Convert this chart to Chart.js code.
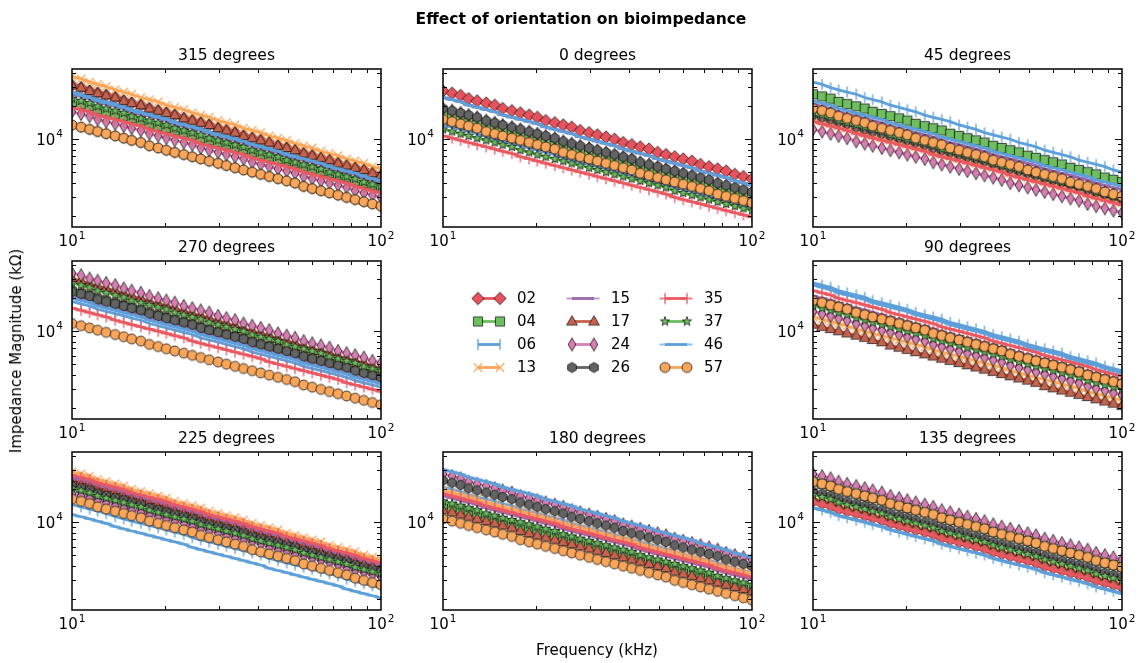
<!DOCTYPE html>
<html lang="en">
<head>
<meta charset="UTF-8">
<title>Effect of orientation on bioimpedance</title>
<script src="https://cdn.jsdelivr.net/npm/chart.js"></script>
<style>
  body { margin: 0; background: #fff; font-family: "DejaVu Sans", sans-serif; }
  #fig { position: relative; width: 1142px; height: 663px; overflow: hidden; background: #fff; }
  #fig canvas { position: absolute; left: 0; top: 0; }
  .lbl { position: absolute; color: #000; white-space: nowrap; font-size: 15px; line-height: 18px; }
  #title { left: 0; width: 1162px; top: 10px; text-align: center; font-weight: bold; font-size: 15.5px; }
  #xlabel { left: 0; width: 1194px; top: 641px; text-align: center; }
  #ylabel { left: 16px; top: 351px; transform: translate(-50%, -50%) rotate(-90deg); }
</style>
</head>
<body>
<div id="fig">
  <div id="title" class="lbl">Effect of orientation on bioimpedance</div>
  <div id="ylabel" class="lbl">Impedance Magnitude (kΩ)</div>
  <div id="xlabel" class="lbl">Frequency (kHz)</div>
</div>
<script>
// frequency sweep (kHz)
const freqs = [10, 10.7, 11.4, 12.1, 12.9, 13.8, 14.7, 15.6, 16.7, 17.8, 19, 20.2, 21.5, 23, 24.5, 26.1, 27.8, 29.7, 31.6, 33.7, 35.9, 38.3, 40.8, 43.5, 46.4, 49.5, 52.7, 56.2, 59.9, 63.9, 68.1, 72.6, 77.4, 82.5, 88, 93.8, 100];

const seriesNames = ['02', '04', '06', '13', '15', '17', '24', '26', '35', '37', '46', '57'];
const panelTitles = ['315 degrees', '0 degrees', '45 degrees', '270 degrees', '90 degrees', '225 degrees', '180 degrees', '135 degrees'];

// axis ticks
const xTicks = [10, 100];
const xMinor = [20, 30, 40, 50, 60, 70, 80, 90];
const yTicks = [10000];
const yMinor = [2000, 3000, 4000, 5000, 6000, 7000, 8000, 9000, 20000, 30000, 40000];
const yMin = 1585, yMax = 43650;

// 315 degrees
const z315_02 = [30900,29510,27540,26300,25120,23990,22390,21380,20420,19050,18200,17380,16600,15490,14790,14130,13490,12590,12020,11480,10720,10230,9772,9333,8710,8318,7943,7413,7079,6761,6457,6026,5754,5495,5248,4898,4677];
const z315_04 = [21880,20890,19950,18620,17780,16980,16220,15490,14790,13800,13180,12590,12020,11480,10960,10230,9772,9333,8913,8511,8128,7586,7244,6918,6607,6310,6026,5623,5370,5129,4898,4677,4467,4169,3981,3802,3631];
const z315_06 = [26920,25700,24550,22910,21880,20890,19950,18620,17780,16980,16220,15490,14450,13800,13180,12590,11750,11220,10720,10230,9772,9120,8710,8318,7943,7413,7079,6761,6457,6166,5754,5495,5248,5012,4677,4467,4266];
const z315_13 = [37150,35480,33110,31620,30200,28180,26920,25700,23990,22910,21880,20420,19500,18620,17380,16600,15850,14790,14130,13490,12590,12020,11480,10720,10230,9772,9120,8710,8318,7762,7413,7079,6607,6310,6026,5623,5370];
const z315_15 = [25700,24550,23440,21880,20890,19950,19050,17780,16980,16220,15490,14790,13800,13180,12590,12020,11220,10720,10230,9772,9333,8710,8318,7943,7586,7079,6761,6457,6166,5888,5495,5248,5012,4786,4467,4266,4074];
const z315_17 = [30900,29510,27540,26300,25120,23990,22390,21380,20420,19050,18200,17380,16600,15490,14790,14130,13490,12590,12020,11480,10720,10230,9772,9333,8710,8318,7943,7413,7079,6761,6457,6026,5754,5495,5248,4898,4677];
const z315_24 = [17780,16980,16220,15140,14450,13800,13180,12590,12020,11220,10720,10230,9772,9333,8913,8318,7943,7586,7244,6918,6607,6166,5888,5623,5370,5129,4898,4571,4365,4169,3981,3802,3631,3388,3236,3090,2951];
const z315_26 = [13490,12880,12300,11750,11220,10720,10230,9772,9333,8710,8318,7943,7586,7244,6918,6607,6310,6026,5754,5495,5248,5012,4786,4571,4365,4169,3981,3715,3548,3388,3236,3090,2951,2818,2692,2570,2455];
const z315_35 = [19500,18620,17780,16600,15850,15140,14450,13800,13180,12300,11750,11220,10720,10230,9772,9120,8710,8318,7943,7586,7244,6761,6457,6166,5888,5623,5370,5012,4786,4571,4365,4169,3981,3715,3548,3388,3236];
const z315_37 = [23440,22390,21380,19950,19050,18200,17380,16220,15490,14790,14130,13490,12590,12020,11480,10960,10230,9772,9333,8913,8511,7943,7586,7244,6918,6457,6166,5888,5623,5370,5012,4786,4571,4365,4074,3890,3715];
const z315_46 = [26300,25120,23990,22390,21380,20420,19500,18200,17380,16600,15850,15140,14130,13490,12880,12300,11480,10960,10470,10000,9550,8913,8511,8128,7762,7244,6918,6607,6310,6026,5623,5370,5129,4898,4571,4365,4169];
const z315_57 = [13490,12880,12300,11750,11220,10720,10230,9772,9333,8710,8318,7943,7586,7244,6918,6607,6310,6026,5754,5495,5248,5012,4786,4571,4365,4169,3981,3715,3548,3388,3236,3090,2951,2818,2692,2570,2455];

// 0 degrees
const z0_02 = [27540,26300,25120,23440,22390,21380,20420,19050,18200,17380,16600,15850,14790,14130,13490,12880,12020,11480,10960,10470,10000,9333,8913,8511,8128,7586,7244,6918,6607,6310,5888,5623,5370,5129,4786,4571,4365];
const z0_04 = [16220,15490,14790,14130,13490,12880,12300,11750,11220,10470,10000,9550,9120,8710,8318,7943,7586,7244,6918,6607,6310,6026,5754,5495,5248,5012,4786,4467,4266,4074,3890,3715,3548,3388,3236,3090,2951];
const z0_06 = [13490,12880,12300,11750,11220,10470,10000,9550,9120,8710,8318,7943,7586,7244,6761,6457,6166,5888,5623,5370,5129,4898,4677,4365,4169,3981,3802,3631,3467,3311,3162,3020,2818,2692,2570,2455,2344];
const z0_13 = [15140,14450,13800,13180,12590,11750,11220,10720,10230,9772,9333,8913,8511,8128,7586,7244,6918,6607,6310,6026,5754,5495,5248,4898,4677,4467,4266,4074,3890,3715,3548,3388,3162,3020,2884,2754,2630];
const z0_15 = [23990,22910,21880,20420,19500,18620,17780,16600,15850,15140,14450,13800,12880,12300,11750,11220,10470,10000,9550,9120,8710,8128,7762,7413,7079,6607,6310,6026,5754,5495,5129,4898,4677,4467,4169,3981,3802];
const z0_17 = [15140,14450,13800,13180,12590,11750,11220,10720,10230,9772,9333,8913,8511,8128,7586,7244,6918,6607,6310,6026,5754,5495,5248,4898,4677,4467,4266,4074,3890,3715,3548,3388,3162,3020,2884,2754,2630];
const z0_24 = [19050,18200,17380,16600,15850,14790,14130,13490,12880,12300,11750,11220,10720,10230,9550,9120,8710,8318,7943,7586,7244,6918,6607,6166,5888,5623,5370,5129,4898,4677,4467,4266,3981,3802,3631,3467,3311];
const z0_26 = [19050,18200,17380,16600,15850,14790,14130,13490,12880,12300,11750,11220,10720,10230,9550,9120,8710,8318,7943,7586,7244,6918,6607,6166,5888,5623,5370,5129,4898,4677,4467,4266,3981,3802,3631,3467,3311];
const z0_35 = [10720,10230,9772,9333,8913,8511,8128,7762,7413,6918,6607,6310,6026,5754,5495,5248,5012,4786,4571,4365,4169,3981,3802,3631,3467,3311,3162,2951,2818,2692,2570,2455,2344,2239,2138,2042,1950];
const z0_37 = [12300,11750,11220,10720,10230,9772,9333,8913,8511,7943,7586,7244,6918,6607,6310,6026,5754,5495,5248,5012,4786,4571,4365,4169,3981,3802,3631,3388,3236,3090,2951,2818,2692,2570,2455,2344,2239];
const z0_46 = [23990,22910,21880,20420,19500,18620,17780,16600,15850,15140,14450,13800,12880,12300,11750,11220,10470,10000,9550,9120,8710,8128,7762,7413,7079,6607,6310,6026,5754,5495,5129,4898,4677,4467,4169,3981,3802];
const z0_57 = [15140,14450,13800,13180,12590,11750,11220,10720,10230,9772,9333,8913,8511,8128,7586,7244,6918,6607,6310,6026,5754,5495,5248,4898,4677,4467,4266,4074,3890,3715,3548,3388,3162,3020,2884,2754,2630];

// 45 degrees
const z45_02 = [19050,18200,17380,16220,15490,14790,14130,13180,12590,12020,11480,10960,10230,9772,9333,8913,8318,7943,7586,7244,6918,6457,6166,5888,5623,5248,5012,4786,4571,4365,4074,3890,3715,3548,3311,3162,3020];
const z45_04 = [25700,24550,23440,21880,20890,19950,19050,17780,16980,16220,15490,14790,13800,13180,12590,12020,11220,10720,10230,9772,9333,8710,8318,7943,7586,7079,6761,6457,6166,5888,5495,5248,5012,4786,4467,4266,4074];
const z45_06 = [33110,31620,29510,28180,26920,25700,23990,22910,21880,20420,19500,18620,17780,16600,15850,15140,14450,13490,12880,12300,11480,10960,10470,10000,9333,8913,8511,7943,7586,7244,6918,6457,6166,5888,5623,5248,5012];
const z45_13 = [15140,14450,13800,13180,12590,11750,11220,10720,10230,9772,9333,8913,8511,8128,7586,7244,6918,6607,6310,6026,5754,5495,5248,4898,4677,4467,4266,4074,3890,3715,3548,3388,3162,3020,2884,2754,2630];
const z45_15 = [20890,19950,19050,17780,16980,16220,15490,14790,14130,13180,12590,12020,11480,10960,10470,9772,9333,8913,8511,8128,7762,7244,6918,6607,6310,6026,5754,5370,5129,4898,4677,4467,4266,3981,3802,3631,3467];
const z45_17 = [19050,18200,17380,16220,15490,14790,14130,13180,12590,12020,11480,10960,10230,9772,9333,8913,8318,7943,7586,7244,6918,6457,6166,5888,5623,5248,5012,4786,4571,4365,4074,3890,3715,3548,3311,3162,3020];
const z45_24 = [12300,11750,11220,10720,10230,9550,9120,8710,8318,7943,7586,7244,6918,6607,6166,5888,5623,5370,5129,4898,4677,4467,4266,3981,3802,3631,3467,3311,3162,3020,2884,2754,2570,2455,2344,2239,2138];
const z45_26 = [16600,15850,15140,14450,13800,12880,12300,11750,11220,10720,10230,9772,9333,8913,8318,7943,7586,7244,6918,6607,6310,6026,5754,5370,5129,4898,4677,4467,4266,4074,3890,3715,3467,3311,3162,3020,2884];
const z45_35 = [14450,13800,13180,12590,12020,11220,10720,10230,9772,9333,8913,8511,8128,7762,7244,6918,6607,6310,6026,5754,5495,5248,5012,4677,4467,4266,4074,3890,3715,3548,3388,3236,3020,2884,2754,2630,2512];
const z45_37 = [17380,16600,15850,14790,14130,13490,12880,12300,11750,10960,10470,10000,9550,9120,8710,8128,7762,7413,7079,6761,6457,6026,5754,5495,5248,5012,4786,4467,4266,4074,3890,3715,3548,3311,3162,3020,2884];
const z45_46 = [22390,21380,20420,19050,18200,17380,16600,15850,15140,14130,13490,12880,12300,11750,11220,10470,10000,9550,9120,8710,8318,7762,7413,7079,6761,6457,6166,5754,5495,5248,5012,4786,4571,4266,4074,3890,3715];
const z45_57 = [19050,18200,17380,16220,15490,14790,14130,13180,12590,12020,11480,10960,10230,9772,9333,8913,8318,7943,7586,7244,6918,6457,6166,5888,5623,5248,5012,4786,4571,4365,4074,3890,3715,3548,3311,3162,3020];

// 270 degrees
const z270_02 = [22910,21880,20890,19500,18620,17780,16980,16220,15490,14450,13800,13180,12590,12020,11480,10720,10230,9772,9333,8913,8511,7943,7586,7244,6918,6607,6310,5888,5623,5370,5129,4898,4677,4365,4169,3981,3802];
const z270_04 = [22910,21880,20890,19500,18620,17780,16980,16220,15490,14450,13800,13180,12590,12020,11480,10720,10230,9772,9333,8913,8511,7943,7586,7244,6918,6607,6310,5888,5623,5370,5129,4898,4677,4365,4169,3981,3802];
const z270_06 = [18620,17780,16980,15850,15140,14450,13800,13180,12590,11750,11220,10720,10230,9772,9333,8710,8318,7943,7586,7244,6918,6457,6166,5888,5623,5370,5129,4786,4571,4365,4169,3981,3802,3548,3388,3236,3090];
const z270_13 = [29510,28180,26300,25120,23990,22910,21380,20420,19500,18200,17380,16600,15850,14790,14130,13490,12880,12020,11480,10960,10230,9772,9333,8913,8318,7943,7586,7079,6761,6457,6166,5754,5495,5248,5012,4677,4467];
const z270_15 = [20420,19500,18620,17380,16600,15850,15140,14450,13800,12880,12300,11750,11220,10720,10230,9550,9120,8710,8318,7943,7586,7079,6761,6457,6166,5888,5623,5248,5012,4786,4571,4365,4169,3890,3715,3548,3388];
const z270_17 = [30200,28840,26920,25700,24550,23440,21880,20890,19950,18620,17780,16980,16220,15140,14450,13800,13180,12300,11750,11220,10470,10000,9550,9120,8511,8128,7762,7244,6918,6607,6310,5888,5623,5370,5129,4786,4571];
const z270_24 = [33880,32360,30200,28840,27540,26300,24550,23440,22390,20890,19950,19050,18200,16980,16220,15490,14790,13800,13180,12590,11750,11220,10720,10230,9550,9120,8710,8128,7762,7413,7079,6607,6310,6026,5754,5370,5129];
const z270_26 = [22910,21880,20890,19500,18620,17780,16980,16220,15490,14450,13800,13180,12590,12020,11480,10720,10230,9772,9333,8913,8511,7943,7586,7244,6918,6607,6310,5888,5623,5370,5129,4898,4677,4365,4169,3981,3802];
const z270_35 = [16220,15490,14790,14130,13490,12590,12020,11480,10960,10470,10000,9550,9120,8710,8128,7762,7413,7079,6761,6457,6166,5888,5623,5248,5012,4786,4571,4365,4169,3981,3802,3631,3388,3236,3090,2951,2818];
const z270_37 = [27540,26300,25120,23440,22390,21380,20420,19050,18200,17380,16600,15850,14790,14130,13490,12880,12020,11480,10960,10470,10000,9333,8913,8511,8128,7586,7244,6918,6607,6310,5888,5623,5370,5129,4786,4571,4365];
const z270_46 = [19950,19050,18200,16980,16220,15490,14790,14130,13490,12590,12020,11480,10960,10470,10000,9333,8913,8511,8128,7762,7413,6918,6607,6310,6026,5754,5495,5129,4898,4677,4467,4266,4074,3802,3631,3467,3311];
const z270_57 = [11750,11220,10720,10230,9772,9333,8913,8511,8128,7586,7244,6918,6607,6310,6026,5754,5495,5248,5012,4786,4571,4365,4169,3981,3802,3631,3467,3236,3090,2951,2818,2692,2570,2455,2344,2239,2138];

// 90 degrees
const z90_02 = [19050,18200,17380,16600,15850,14790,14130,13490,12880,12300,11750,11220,10720,10230,9550,9120,8710,8318,7943,7586,7244,6918,6607,6166,5888,5623,5370,5129,4898,4677,4467,4266,3981,3802,3631,3467,3311];
const z90_04 = [19050,18200,17380,16600,15850,14790,14130,13490,12880,12300,11750,11220,10720,10230,9550,9120,8710,8318,7943,7586,7244,6918,6607,6166,5888,5623,5370,5129,4898,4677,4467,4266,3981,3802,3631,3467,3311];
const z90_06 = [27540,26300,25120,23440,22390,21380,20420,19050,18200,17380,16600,15850,14790,14130,13490,12880,12020,11480,10960,10470,10000,9333,8913,8511,8128,7586,7244,6918,6607,6310,5888,5623,5370,5129,4786,4571,4365];
const z90_13 = [13490,12880,12300,11750,11220,10470,10000,9550,9120,8710,8318,7943,7586,7244,6761,6457,6166,5888,5623,5370,5129,4898,4677,4365,4169,3981,3802,3631,3467,3311,3162,3020,2818,2692,2570,2455,2344];
const z90_15 = [20890,19950,19050,17780,16980,16220,15490,14790,14130,13180,12590,12020,11480,10960,10470,9772,9333,8913,8511,8128,7762,7244,6918,6607,6310,6026,5754,5370,5129,4898,4677,4467,4266,3981,3802,3631,3467];
const z90_17 = [11480,10960,10470,10000,9550,9120,8710,8318,7943,7413,7079,6761,6457,6166,5888,5623,5370,5129,4898,4677,4467,4266,4074,3890,3715,3548,3388,3162,3020,2884,2754,2630,2512,2399,2291,2188,2089];
const z90_24 = [15140,14450,13800,13180,12590,11750,11220,10720,10230,9772,9333,8913,8511,8128,7586,7244,6918,6607,6310,6026,5754,5495,5248,4898,4677,4467,4266,4074,3890,3715,3548,3388,3162,3020,2884,2754,2630];
const z90_26 = [19050,18200,17380,16600,15850,14790,14130,13490,12880,12300,11750,11220,10720,10230,9550,9120,8710,8318,7943,7586,7244,6918,6607,6166,5888,5623,5370,5129,4898,4677,4467,4266,3981,3802,3631,3467,3311];
const z90_35 = [23440,22390,21380,19950,19050,18200,17380,16600,15850,14790,14130,13490,12880,12300,11750,10960,10470,10000,9550,9120,8710,8128,7762,7413,7079,6761,6457,6026,5754,5495,5248,5012,4786,4467,4266,4074,3890];
const z90_37 = [16980,16220,15490,14790,14130,13180,12590,12020,11480,10960,10470,10000,9550,9120,8511,8128,7762,7413,7079,6761,6457,6166,5888,5495,5248,5012,4786,4571,4365,4169,3981,3802,3548,3388,3236,3090,2951];
const z90_46 = [26300,25120,23990,22390,21380,20420,19500,18200,17380,16600,15850,15140,14130,13490,12880,12300,11480,10960,10470,10000,9550,8913,8511,8128,7762,7244,6918,6607,6310,6026,5623,5370,5129,4898,4571,4365,4169];
const z90_57 = [19050,18200,17380,16600,15850,14790,14130,13490,12880,12300,11750,11220,10720,10230,9550,9120,8710,8318,7943,7586,7244,6918,6607,6166,5888,5623,5370,5129,4898,4677,4467,4266,3981,3802,3631,3467,3311];

// 225 degrees
const z225_02 = [23440,22390,21380,19950,19050,18200,17380,16600,15850,14790,14130,13490,12880,12300,11750,10960,10470,10000,9550,9120,8710,8128,7762,7413,7079,6761,6457,6026,5754,5495,5248,5012,4786,4467,4266,4074,3890];
const z225_04 = [21380,20420,19500,18200,17380,16600,15850,15140,14450,13490,12880,12300,11750,11220,10720,10000,9550,9120,8710,8318,7943,7413,7079,6761,6457,6166,5888,5495,5248,5012,4786,4571,4365,4074,3890,3715,3548];
const z225_06 = [14450,13800,13180,12590,12020,11220,10720,10230,9772,9333,8913,8511,8128,7762,7244,6918,6607,6310,6026,5754,5495,5248,5012,4677,4467,4266,4074,3890,3715,3548,3388,3236,3020,2884,2754,2630,2512];
const z225_13 = [28840,27540,26300,24550,23440,22390,21380,19950,19050,18200,17380,16600,15490,14790,14130,13490,12590,12020,11480,10960,10470,9772,9333,8913,8511,7943,7586,7244,6918,6607,6166,5888,5623,5370,5012,4786,4571];
const z225_15 = [25700,24550,23440,21880,20890,19950,19050,17780,16980,16220,15490,14790,13800,13180,12590,12020,11220,10720,10230,9772,9333,8710,8318,7943,7586,7079,6761,6457,6166,5888,5495,5248,5012,4786,4467,4266,4074];
const z225_17 = [22390,21380,20420,19050,18200,17380,16600,15850,15140,14130,13490,12880,12300,11750,11220,10470,10000,9550,9120,8710,8318,7762,7413,7079,6761,6457,6166,5754,5495,5248,5012,4786,4571,4266,4074,3890,3715];
const z225_24 = [18200,17380,16600,15850,15140,14130,13490,12880,12300,11750,11220,10720,10230,9772,9120,8710,8318,7943,7586,7244,6918,6607,6310,5888,5623,5370,5129,4898,4677,4467,4266,4074,3802,3631,3467,3311,3162];
const z225_26 = [21380,20420,19500,18200,17380,16600,15850,15140,14450,13490,12880,12300,11750,11220,10720,10000,9550,9120,8710,8318,7943,7413,7079,6761,6457,6166,5888,5495,5248,5012,4786,4571,4365,4074,3890,3715,3548];
const z225_35 = [26920,25700,24550,22910,21880,20890,19950,18620,17780,16980,16220,15490,14450,13800,13180,12590,11750,11220,10720,10230,9772,9120,8710,8318,7943,7413,7079,6761,6457,6166,5754,5495,5248,5012,4677,4467,4266];
const z225_37 = [20420,19500,18620,17380,16600,15850,15140,14450,13800,12880,12300,11750,11220,10720,10230,9550,9120,8710,8318,7943,7586,7079,6761,6457,6166,5888,5623,5248,5012,4786,4571,4365,4169,3890,3715,3548,3388];
const z225_46 = [11750,11220,10720,10230,9772,9120,8710,8318,7943,7586,7244,6918,6607,6310,5888,5623,5370,5129,4898,4677,4467,4266,4074,3802,3631,3467,3311,3162,3020,2884,2754,2630,2455,2344,2239,2138,2042];
const z225_57 = [16220,15490,14790,13800,13180,12590,12020,11480,10960,10230,9772,9333,8913,8511,8128,7586,7244,6918,6607,6310,6026,5623,5370,5129,4898,4677,4467,4169,3981,3802,3631,3467,3311,3090,2951,2818,2692];

// 180 degrees
const z180_02 = [14130,13490,12880,12300,11750,10960,10470,10000,9550,9120,8710,8318,7943,7586,7079,6761,6457,6166,5888,5623,5370,5129,4898,4571,4365,4169,3981,3802,3631,3467,3311,3162,2951,2818,2692,2570,2455];
const z180_04 = [14450,13800,13180,12590,12020,11220,10720,10230,9772,9333,8913,8511,8128,7762,7244,6918,6607,6310,6026,5754,5495,5248,5012,4677,4467,4266,4074,3890,3715,3548,3388,3236,3020,2884,2754,2630,2512];
const z180_06 = [20890,19950,19050,17780,16980,16220,15490,14790,14130,13180,12590,12020,11480,10960,10470,9772,9333,8913,8511,8128,7762,7244,6918,6607,6310,6026,5754,5370,5129,4898,4677,4467,4266,3981,3802,3631,3467];
const z180_13 = [19500,18620,17780,16980,16220,15140,14450,13800,13180,12590,12020,11480,10960,10470,9772,9333,8913,8511,8128,7762,7413,7079,6761,6310,6026,5754,5495,5248,5012,4786,4571,4365,4074,3890,3715,3548,3388];
const z180_15 = [17380,16600,15850,15140,14450,13490,12880,12300,11750,11220,10720,10230,9772,9333,8710,8318,7943,7586,7244,6918,6607,6310,6026,5623,5370,5129,4898,4677,4467,4266,4074,3890,3631,3467,3311,3162,3020];
const z180_17 = [12880,12300,11750,11220,10720,10230,9772,9333,8913,8318,7943,7586,7244,6918,6607,6310,6026,5754,5495,5248,5012,4786,4571,4365,4169,3981,3802,3548,3388,3236,3090,2951,2818,2692,2570,2455,2344];
const z180_24 = [27540,26300,25120,23440,22390,21380,20420,19500,18620,17380,16600,15850,15140,14450,13800,12880,12300,11750,11220,10720,10230,9550,9120,8710,8318,7943,7586,7079,6761,6457,6166,5888,5623,5248,5012,4786,4571];
const z180_26 = [23990,22910,21880,20420,19500,18620,17780,16980,16220,15140,14450,13800,13180,12590,12020,11220,10720,10230,9772,9333,8913,8318,7943,7586,7244,6918,6607,6166,5888,5623,5370,5129,4898,4571,4365,4169,3981];
const z180_35 = [18200,17380,16600,15850,15140,14130,13490,12880,12300,11750,11220,10720,10230,9772,9120,8710,8318,7943,7586,7244,6918,6607,6310,5888,5623,5370,5129,4898,4677,4467,4266,4074,3802,3631,3467,3311,3162];
const z180_37 = [15490,14790,14130,13490,12880,12020,11480,10960,10470,10000,9550,9120,8710,8318,7762,7413,7079,6761,6457,6166,5888,5623,5370,5012,4786,4571,4365,4169,3981,3802,3631,3467,3236,3090,2951,2818,2692];
const z180_46 = [30200,28840,27540,25700,24550,23440,22390,20890,19950,19050,18200,17380,16220,15490,14790,14130,13180,12590,12020,11480,10960,10230,9772,9333,8913,8318,7943,7586,7244,6918,6457,6166,5888,5623,5248,5012,4786];
const z180_57 = [10720,10230,9772,9333,8913,8511,8128,7762,7413,6918,6607,6310,6026,5754,5495,5248,5012,4786,4571,4365,4169,3981,3802,3631,3467,3311,3162,2951,2818,2692,2570,2455,2344,2239,2138,2042,1950];

// 135 degrees
const z135_02 = [15490,14790,14130,13180,12590,12020,11480,10960,10470,9772,9333,8913,8511,8128,7762,7244,6918,6607,6310,6026,5754,5370,5129,4898,4677,4467,4266,3981,3802,3631,3467,3311,3162,2951,2818,2692,2570];
const z135_04 = [23440,22390,21380,19950,19050,18200,17380,16600,15850,14790,14130,13490,12880,12300,11750,10960,10470,10000,9550,9120,8710,8128,7762,7413,7079,6761,6457,6026,5754,5495,5248,5012,4786,4467,4266,4074,3890];
const z135_06 = [13490,12880,12300,11480,10960,10470,10000,9550,9120,8511,8128,7762,7413,7079,6761,6310,6026,5754,5495,5248,5012,4677,4467,4266,4074,3890,3715,3467,3311,3162,3020,2884,2754,2570,2455,2344,2239];
const z135_13 = [16600,15850,15140,14130,13490,12880,12300,11750,11220,10470,10000,9550,9120,8710,8318,7762,7413,7079,6761,6457,6166,5754,5495,5248,5012,4786,4571,4266,4074,3890,3715,3548,3388,3162,3020,2884,2754];
const z135_15 = [18200,17380,16600,15490,14790,14130,13490,12880,12300,11480,10960,10470,10000,9550,9120,8511,8128,7762,7413,7079,6761,6310,6026,5754,5495,5248,5012,4677,4467,4266,4074,3890,3715,3467,3311,3162,3020];
const z135_17 = [16220,15490,14790,13800,13180,12590,12020,11480,10960,10230,9772,9333,8913,8511,8128,7586,7244,6918,6607,6310,6026,5623,5370,5129,4898,4677,4467,4169,3981,3802,3631,3467,3311,3090,2951,2818,2692];
const z135_24 = [27540,26300,25120,23440,22390,21380,20420,19500,18620,17380,16600,15850,15140,14450,13800,12880,12300,11750,11220,10720,10230,9550,9120,8710,8318,7943,7586,7079,6761,6457,6166,5888,5623,5248,5012,4786,4571];
const z135_26 = [19050,18200,17380,16220,15490,14790,14130,13490,12880,12020,11480,10960,10470,10000,9550,8913,8511,8128,7762,7413,7079,6607,6310,6026,5754,5495,5248,4898,4677,4467,4266,4074,3890,3631,3467,3311,3162];
const z135_35 = [15140,14450,13800,12880,12300,11750,11220,10720,10230,9550,9120,8710,8318,7943,7586,7079,6761,6457,6166,5888,5623,5248,5012,4786,4571,4365,4169,3890,3715,3548,3388,3236,3090,2884,2754,2630,2512];
const z135_37 = [17780,16980,16220,15140,14450,13800,13180,12590,12020,11220,10720,10230,9772,9333,8913,8318,7943,7586,7244,6918,6607,6166,5888,5623,5370,5129,4898,4571,4365,4169,3981,3802,3631,3388,3236,3090,2951];
const z135_46 = [13490,12880,12300,11480,10960,10470,10000,9550,9120,8511,8128,7762,7413,7079,6761,6310,6026,5754,5495,5248,5012,4677,4467,4266,4074,3890,3715,3467,3311,3162,3020,2884,2754,2570,2455,2344,2239];
const z135_57 = [23440,22390,21380,19950,19050,18200,17380,16600,15850,14790,14130,13490,12880,12300,11750,10960,10470,10000,9550,9120,8710,8128,7762,7413,7079,6761,6457,6026,5754,5495,5248,5012,4786,4467,4266,4074,3890];

// styles
const seriesColors = ['#e8525c', '#6cbe5f', '#5da0da', '#f9a65a', '#9e67ab', '#c7624d', '#d77fb3', '#636363', '#ec5862', '#6cbe5f', '#5da0da', '#f9a65a'];
const seriesMarkers = ['D', 's', '|', 'x', '_', '^', 'd', 'h', '+', '*', '_', 'o'];

const colLeft = [72, 443, 813];
const rowTop = [69, 261, 452];
const plotW = 309, plotH = 158;
const W = 1142, H = 663;

const panels = [
  { title: panelTitles[0], col: 0, row: 0, data: [z315_02, z315_04, z315_06, z315_13, z315_15, z315_17, z315_24, z315_26, z315_35, z315_37, z315_46, z315_57] },
  { title: panelTitles[1], col: 1, row: 0, data: [z0_02, z0_04, z0_06, z0_13, z0_15, z0_17, z0_24, z0_26, z0_35, z0_37, z0_46, z0_57] },
  { title: panelTitles[2], col: 2, row: 0, data: [z45_02, z45_04, z45_06, z45_13, z45_15, z45_17, z45_24, z45_26, z45_35, z45_37, z45_46, z45_57] },
  { title: panelTitles[3], col: 0, row: 1, data: [z270_02, z270_04, z270_06, z270_13, z270_15, z270_17, z270_24, z270_26, z270_35, z270_37, z270_46, z270_57] },
  { title: panelTitles[4], col: 2, row: 1, data: [z90_02, z90_04, z90_06, z90_13, z90_15, z90_17, z90_24, z90_26, z90_35, z90_37, z90_46, z90_57] },
  { title: panelTitles[5], col: 0, row: 2, data: [z225_02, z225_04, z225_06, z225_13, z225_15, z225_17, z225_24, z225_26, z225_35, z225_37, z225_46, z225_57] },
  { title: panelTitles[6], col: 1, row: 2, data: [z180_02, z180_04, z180_06, z180_13, z180_15, z180_17, z180_24, z180_26, z180_35, z180_37, z180_46, z180_57] },
  { title: panelTitles[7], col: 2, row: 2, data: [z135_02, z135_04, z135_06, z135_13, z135_15, z135_17, z135_24, z135_26, z135_35, z135_37, z135_46, z135_57] }
];

// marker sprites, matplotlib-like shapes
function makeMarker(kind, color) {
  const s = 18;
  const c = document.createElement('canvas');
  c.width = s; c.height = s;
  const g = c.getContext('2d');
  g.translate(s / 2, s / 2);
  g.fillStyle = color;
  g.strokeStyle = '#111';
  g.lineWidth = 0.75;
  g.beginPath();
  if (kind === 'o') {
    g.arc(0, 0, 5, 0, Math.PI * 2);
  } else if (kind === 'D') {
    g.moveTo(0, -6.2); g.lineTo(6.2, 0); g.lineTo(0, 6.2); g.lineTo(-6.2, 0); g.closePath();
  } else if (kind === 's') {
    g.rect(-4.6, -4.6, 9.2, 9.2);
  } else if (kind === '^') {
    g.moveTo(0, -5.8); g.lineTo(5.4, 3.6); g.lineTo(-5.4, 3.6); g.closePath();
  } else if (kind === 'd') {
    g.moveTo(0, -6.6); g.lineTo(3.8, 0); g.lineTo(0, 6.6); g.lineTo(-3.8, 0); g.closePath();
  } else if (kind === 'h') {
    for (let k = 0; k < 6; k++) {
      const t = -Math.PI / 2 + k * Math.PI / 3;
      g.lineTo(5 * Math.cos(t), 5 * Math.sin(t));
    }
    g.closePath();
  } else if (kind === '*') {
    for (let k = 0; k < 10; k++) {
      const r = k % 2 ? 2 : 4.9;
      const t = -Math.PI / 2 + k * Math.PI / 5;
      g.lineTo(r * Math.cos(t), r * Math.sin(t));
    }
    g.closePath();
  } else {
    g.strokeStyle = color;
    g.lineWidth = 1.3;
    if (kind === '|') { g.moveTo(0, -5.5); g.lineTo(0, 5.5); }
    if (kind === '_') { g.moveTo(-5.5, 0); g.lineTo(5.5, 0); }
    if (kind === '+') { g.moveTo(0, -5.5); g.lineTo(0, 5.5); g.moveTo(-5.5, 0); g.lineTo(5.5, 0); }
    if (kind === 'x') { g.moveTo(-4.2, -4.2); g.lineTo(4.2, 4.2); g.moveTo(-4.2, 4.2); g.lineTo(4.2, -4.2); }
    g.stroke();
    return c;
  }
  g.fill();
  g.stroke();
  return c;
}

const markerImgs = seriesMarkers.map((m, i) => makeMarker(m, seriesColors[i]));

function drawPower(ctx, v, px, py, align) {
  const e = String(Math.round(Math.log10(v)));
  ctx.font = '15px "DejaVu Sans"';
  const wb = ctx.measureText('10').width;
  ctx.font = '10.5px "DejaVu Sans"';
  const we = ctx.measureText(e).width;
  const total = wb + 1 + we;
  const x0 = align === 'center' ? px - total / 2 : px - total;
  ctx.textAlign = 'left';
  ctx.textBaseline = 'middle';
  ctx.font = '15px "DejaVu Sans"';
  ctx.fillText('10', x0, py);
  ctx.font = '10.5px "DejaVu Sans"';
  ctx.fillText(e, x0 + wb + 1, py - 6.5);
}

function framePlugin(title) {
  return {
    id: 'frame',
    afterDraw(chart) {
      const { ctx, chartArea: a, scales: { x, y } } = chart;
      ctx.save();
      ctx.strokeStyle = '#000';
      ctx.lineWidth = 1;
      ctx.beginPath();
      xMinor.forEach(v => {
        const px = Math.round(x.getPixelForValue(v)) + 0.5;
        ctx.moveTo(px, a.bottom); ctx.lineTo(px, a.bottom - 4);
        ctx.moveTo(px, a.top); ctx.lineTo(px, a.top + 4);
      });
      yMinor.forEach(v => {
        const py = Math.round(y.getPixelForValue(v)) + 0.5;
        ctx.moveTo(a.left, py); ctx.lineTo(a.left + 4, py);
        ctx.moveTo(a.right, py); ctx.lineTo(a.right - 4, py);
      });
      yTicks.forEach(v => {
        const py = Math.round(y.getPixelForValue(v)) + 0.5;
        ctx.moveTo(a.left, py); ctx.lineTo(a.left + 7, py);
        ctx.moveTo(a.right, py); ctx.lineTo(a.right - 7, py);
      });
      ctx.stroke();
      ctx.lineWidth = 1.5;
      ctx.strokeRect(a.left, a.top, a.right - a.left, a.bottom - a.top);

      ctx.fillStyle = '#000';
      xTicks.forEach(v => drawPower(ctx, v, x.getPixelForValue(v), a.bottom + 15.5, 'center'));
      yTicks.forEach(v => drawPower(ctx, v, a.left - 9, y.getPixelForValue(v) + 1.5, 'right'));

      ctx.font = '15.5px "DejaVu Sans"';
      ctx.textAlign = 'center';
      ctx.textBaseline = 'alphabetic';
      ctx.fillText(title, (a.left + a.right) / 2, a.top - 9);
      ctx.restore();
    }
  };
}

const fig = document.getElementById('fig');

function addCanvas() {
  const cv = document.createElement('canvas');
  cv.width = W; cv.height = H;
  cv.style.width = W + 'px'; cv.style.height = H + 'px';
  fig.insertBefore(cv, fig.firstChild);
  return cv;
}

panels.forEach(p => {
  const left = colLeft[p.col], top = rowTop[p.row];
  new Chart(addCanvas(), {
    type: 'line',
    data: {
      datasets: seriesNames.map((name, i) => ({
        label: name,
        data: freqs.map((f, k) => ({ x: f, y: p.data[i][k] })),
        borderColor: seriesColors[i],
        backgroundColor: seriesColors[i],
        borderWidth: 2.8,
        pointStyle: markerImgs[i],
        pointRadius: 6,
        pointHoverRadius: 6,
        tension: 0,
        clip: 0,
        order: seriesNames.length - 1 - i
      }))
    },
    options: {
      responsive: false,
      animation: false,
      events: [],
      layout: { padding: { left: left, top: top, right: W - left - plotW, bottom: H - top - plotH } },
      scales: {
        x: { type: 'logarithmic', min: 10, max: 100, display: false },
        y: { type: 'logarithmic', min: yMin, max: yMax, display: false }
      },
      plugins: { legend: { display: false }, tooltip: { enabled: false } }
    },
    plugins: [framePlugin(p.title)]
  });
});

// legend in the centre cell
const legendCols = [478, 572, 665];
const legendRows = [298.5, 321.5, 344.5, 367.5];
const legendPlugin = {
  id: 'markerLegend',
  afterDraw(chart) {
    const ctx = chart.ctx;
    ctx.save();
    seriesNames.forEach((name, i) => {
      const cx = legendCols[Math.floor(i / 4)], cy = legendRows[i % 4];
      ctx.strokeStyle = seriesColors[i];
      ctx.lineWidth = 2.8;
      ctx.beginPath();
      ctx.moveTo(cx, cy); ctx.lineTo(cx + 22, cy);
      ctx.stroke();
      const img = markerImgs[i];
      ctx.drawImage(img, cx - img.width / 2, cy - img.height / 2);
      ctx.drawImage(img, cx + 22 - img.width / 2, cy - img.height / 2);
      ctx.fillStyle = '#000';
      ctx.font = '15px "DejaVu Sans"';
      ctx.textAlign = 'left';
      ctx.textBaseline = 'middle';
      ctx.fillText(name, cx + 39, cy + 1);
    });
    ctx.restore();
  }
};
new Chart(addCanvas(), {
  type: 'line',
  data: { datasets: [] },
  options: {
    responsive: false,
    animation: false,
    events: [],
    scales: { x: { display: false }, y: { display: false } },
    plugins: { legend: { display: false }, tooltip: { enabled: false } }
  },
  plugins: [legendPlugin]
});
</script>
</body>
</html>
